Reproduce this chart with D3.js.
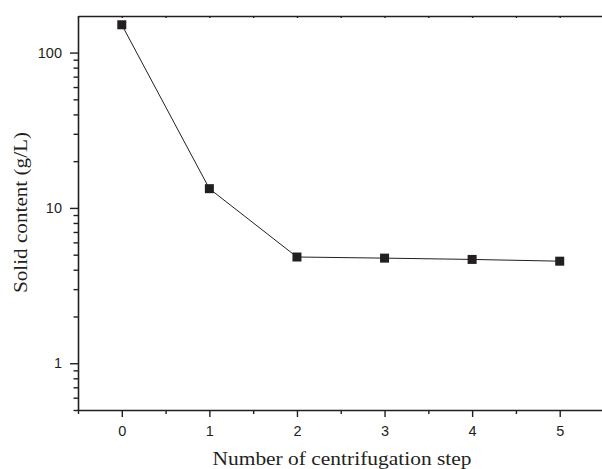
<!DOCTYPE html>
<html>
<head>
<meta charset="utf-8">
<script src="https://cdn.jsdelivr.net/npm/d3@7"></script>
<style>
  html, body { margin: 0; padding: 0; background: #fff; }
  svg { display: block; }
  .axis text { font-family: 'Liberation Sans', Arial, sans-serif; font-size: 14.5px; fill: #231f20; }
</style>
</head>
<body>
<svg id="chart" width="602" height="469"></svg>
<script>
// Solid content after each centrifugation step
const steps = [0, 1, 2, 3, 4, 5];
const solidContent = [151, 13.3, 4.83, 4.75, 4.66, 4.54];
const xTickValues = [0, 1, 2, 3, 4, 5];
const yTickValues = [1, 10, 100];
const xTitle = "Number of centrifugation step";
const yTitle = "Solid content (g/L)";

(function draw() {
  const svg = d3.select("#chart");
  const ink = "#231f20";
  const tickFont = "'Liberation Sans', Arial, sans-serif";

  const plotLeft = 78, plotRight = 603.5, plotTop = 16, plotBottom = 410;

  const x = d3.scaleLinear().domain([-0.5, 5.5]).range([plotLeft, plotRight]);
  const y = d3.scaleLog().domain([0.5, 172]).range([plotBottom, plotTop]);

  // minor ticks on the log axis: 2..9 of each decade, plus those below 1
  const yMinor = [];
  for (const base of [0.1, 1, 10, 100]) {
    for (let k = 2; k <= 9; k++) {
      const v = +(base * k).toPrecision(6);
      if (v >= 0.5 && v <= 172) yMinor.push(v);
    }
  }
  const xMinor = d3.range(-0.5, 5.6, 1);

  // left axis
  svg.append("g").attr("class", "axis").attr("transform", `translate(${plotLeft},0)`)
    .call(d3.axisLeft(y).tickValues(yTickValues).tickFormat(d3.format("d"))
      .tickSize(8).tickSizeOuter(0).tickPadding(8))
    .attr("font-size", 14.5).attr("font-family", tickFont);
  const gyMinor = svg.append("g").attr("transform", `translate(${plotLeft},0)`)
    .call(d3.axisLeft(y).tickValues(yMinor).tickFormat("").tickSize(4.5).tickSizeOuter(0));
  gyMinor.select(".domain").remove();

  // bottom axis
  svg.append("g").attr("class", "axis").attr("transform", `translate(0,${plotBottom})`)
    .call(d3.axisBottom(x).tickValues(xTickValues).tickFormat(d3.format("d"))
      .tickSize(7).tickSizeOuter(0).tickPadding(9))
    .attr("font-size", 14.5).attr("font-family", tickFont);
  const gxMinor = svg.append("g").attr("transform", `translate(0,${plotBottom})`)
    .call(d3.axisBottom(x).tickValues(xMinor).tickFormat("").tickSize(4).tickSizeOuter(0));
  gxMinor.select(".domain").remove();

  // top frame line with small marks
  svg.append("g").attr("transform", `translate(0,${plotTop})`)
    .call(d3.axisTop(x).tickValues(d3.range(-0.5, 5.6, 0.5)).tickFormat("").tickSize(-2).tickSizeOuter(0));

  // styling
  svg.selectAll(".domain").attr("stroke", ink).attr("stroke-width", 1.6);
  svg.selectAll(".tick line").attr("stroke", ink).attr("stroke-width", 1.4);
  svg.selectAll(".tick text").attr("fill", ink);

  // data line
  const line = d3.line().x((d, i) => x(steps[i])).y(d => y(d));
  svg.append("path")
    .datum(solidContent)
    .attr("fill", "none")
    .attr("stroke", ink)
    .attr("stroke-width", 1)
    .attr("d", line);

  // square markers
  const m = 9;
  svg.append("g").selectAll("rect")
    .data(solidContent)
    .join("rect")
    .attr("x", (d, i) => x(steps[i]) - m / 2)
    .attr("y", d => y(d) - m / 2)
    .attr("width", m)
    .attr("height", m)
    .attr("fill", ink);

  // axis titles
  svg.append("text")
    .attr("x", 342)
    .attr("y", 465)
    .attr("text-anchor", "middle")
    .attr("fill", ink)
    .attr("textLength", 259)
    .attr("lengthAdjust", "spacingAndGlyphs")
    .style("font-family", "'Liberation Serif', 'Times New Roman', serif")
    .style("font-size", "18px")
    .text(xTitle);

  svg.append("text")
    .attr("transform", "translate(27,212.5) rotate(-90)")
    .attr("text-anchor", "middle")
    .attr("fill", ink)
    .attr("textLength", 161)
    .attr("lengthAdjust", "spacingAndGlyphs")
    .style("font-family", "'Liberation Serif', 'Times New Roman', serif")
    .style("font-size", "19px")
    .text(yTitle);
})();
</script>
</body>
</html>
